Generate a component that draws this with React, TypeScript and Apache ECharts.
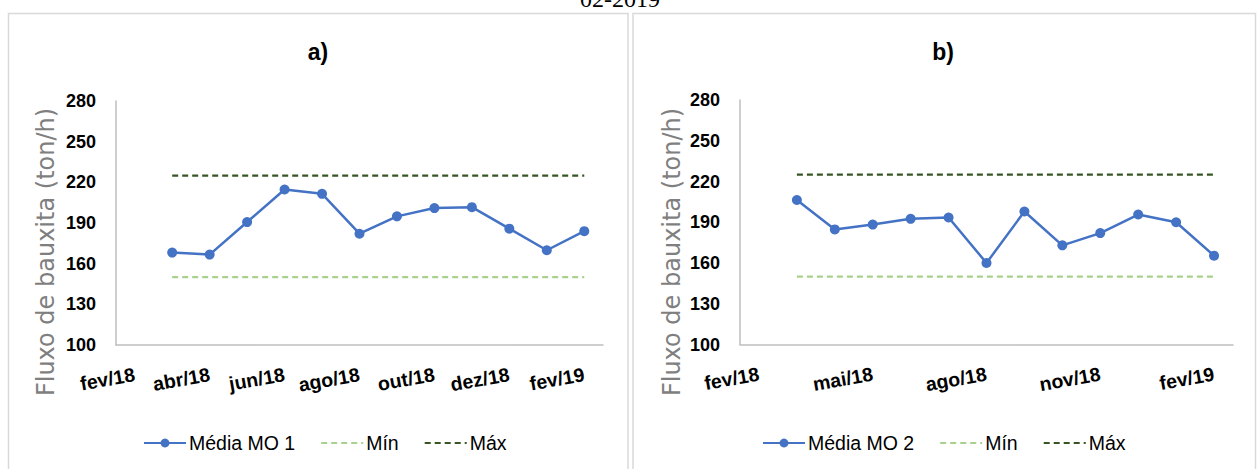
import React, { useEffect, useRef } from "react";
import * as echarts from "echarts";

// Monthly categories shared by both panels
const MONTHS = [
  "fev/18", "mar/18", "abr/18", "mai/18", "jun/18", "jul/18", "ago/18",
  "set/18", "out/18", "nov/18", "dez/18", "jan/19", "fev/19",
];

// Monthly average bauxite flow (ton/h), mar/18 .. fev/19
const MEDIA_MO1 = [168.2, 166.7, 190.7, 214.7, 211.5, 182.1, 194.9, 201.0, 201.7, 185.8, 169.9, 184.0];
const MEDIA_MO2 = [206.4, 184.7, 188.3, 192.5, 193.5, 160.0, 197.9, 173.0, 182.0, 195.7, 190.0, 165.4];

// Operating limits
const LIMITE_MIN = 150;
const LIMITE_MAX = 225;

// Y axis scale
const Y_MIN = 100;
const Y_MAX = 280;
const Y_STEP = 30;

const FONT = "'Liberation Sans', Arial, sans-serif";
const BLUE = "#4472C4";
const LIGHT_GREEN = "#A9D18E";
const DARK_GREEN = "#375623";
const AXIS_GRAY = "#BFBFBF";

// series values start one month after the first category
const withOffset = (vals: number[]) => [null, ...vals];
const flat = (v: number, n: number) => [null, ...Array.from({ length: n }, () => v)];

function xAxis(gridIndex: number, interval: number) {
  return {
    type: "category",
    gridIndex,
    data: MONTHS,
    boundaryGap: true,
    axisLine: { show: true, lineStyle: { color: AXIS_GRAY, width: 1.5 } },
    axisTick: { show: false },
    axisLabel: {
      interval,
      rotate: 10,
      margin: 29,
      color: "#000",
      fontFamily: FONT,
      fontWeight: "bold",
      fontSize: 19.5,
    },
    splitLine: { show: false },
  };
}

function yAxis(gridIndex: number) {
  return {
    type: "value",
    gridIndex,
    min: Y_MIN,
    max: Y_MAX,
    interval: Y_STEP,
    axisLine: { show: true, lineStyle: { color: AXIS_GRAY, width: 1.5 } },
    axisTick: { show: false },
    axisLabel: {
      margin: 20,
      color: "#000",
      fontFamily: FONT,
      fontWeight: "bold",
      fontSize: 18,
    },
    splitLine: { show: false },
  };
}

function panelSeries(idx: number, name: string, values: number[]) {
  const n = values.length;
  return [
    {
      name,
      type: "line",
      xAxisIndex: idx,
      yAxisIndex: idx,
      data: withOffset(values),
      symbol: "circle",
      symbolSize: 10,
      itemStyle: { color: BLUE },
      lineStyle: { color: BLUE, width: 2.5 },
      z: 3,
    },
    {
      name: "Mín",
      type: "line",
      xAxisIndex: idx,
      yAxisIndex: idx,
      data: flat(LIMITE_MIN, n),
      symbol: "none",
      itemStyle: { color: LIGHT_GREEN },
      lineStyle: { color: LIGHT_GREEN, width: 2.25, type: [6, 4] },
    },
    {
      name: "Máx",
      type: "line",
      xAxisIndex: idx,
      yAxisIndex: idx,
      data: flat(LIMITE_MAX, n),
      symbol: "none",
      itemStyle: { color: DARK_GREEN },
      lineStyle: { color: DARK_GREEN, width: 2.25, type: [6, 4] },
    },
  ];
}

function legend(left: number, mainName: string) {
  return {
    left,
    top: 428,
    orient: "horizontal",
    data: [
      { name: mainName },
      { name: "Mín", itemStyle: { opacity: 0 } },
      { name: "Máx", itemStyle: { opacity: 0 } },
    ],
    itemWidth: 42,
    itemHeight: 11,
    itemGap: 25,
    selectedMode: false,
    textStyle: { color: "#000", fontFamily: FONT, fontSize: 19.5, padding: [0, 0, 0, -2] },
  };
}

const panelFrame = (x: number, w: number) => ({
  type: "rect",
  shape: { x, y: 13.5, width: w, height: 480 },
  style: { fill: "none", stroke: "#D9D9D9", lineWidth: 1.5 },
  silent: true,
});

const titleText = (x: number, text: string) => ({
  type: "text",
  x,
  y: 52,
  style: {
    text,
    fill: "#000",
    font: `bold 23px ${FONT}`,
    align: "center",
    verticalAlign: "middle",
  },
});

const axisName = (x: number) => ({
  type: "text",
  x,
  y: 252,
  rotation: Math.PI / 2,
  style: {
    text: "Fluxo de bauxita (ton/h)",
    fill: "#7F7F7F",
    font: "24px 'DejaVu Sans', sans-serif",
    align: "center",
    verticalAlign: "middle",
  },
});

export default function App() {
  const ref = useRef<HTMLDivElement>(null);

  useEffect(() => {
    if (!ref.current) return;
    const chart = echarts.init(ref.current, undefined, { renderer: "svg" });
    chart.setOption({
      animation: false,
      backgroundColor: "#fff",
      grid: [
        { left: 116, top: 101, width: 487, height: 244 },
        { left: 740, top: 100, width: 493, height: 244.5 },
      ],
      xAxis: [xAxis(0, 1), xAxis(1, 2)],
      yAxis: [yAxis(0), yAxis(1)],
      legend: [legend(138, "Média MO 1"), legend(757, "Média MO 2")],
      series: [
        ...panelSeries(0, "Média MO 1", MEDIA_MO1),
        ...panelSeries(1, "Média MO 2", MEDIA_MO2),
      ],
      graphic: [
        panelFrame(8.5, 619.5),
        panelFrame(633, 622.5),
        titleText(318, "a)"),
        titleText(943, "b)"),
        axisName(46),
        axisName(672),
        {
          type: "text",
          x: 620,
          y: 11,
          style: {
            text: "02-2019",
            fill: "#000",
            font: "24px 'Liberation Serif', 'Times New Roman', serif",
            align: "center",
            verticalAlign: "bottom",
          },
        },
      ],
    });
    return () => chart.dispose();
  }, []);

  return (
    <div
      ref={ref}
      style={{ position: "absolute", left: 0, top: 0, width: 1257, height: 469 }}
    />
  );
}
